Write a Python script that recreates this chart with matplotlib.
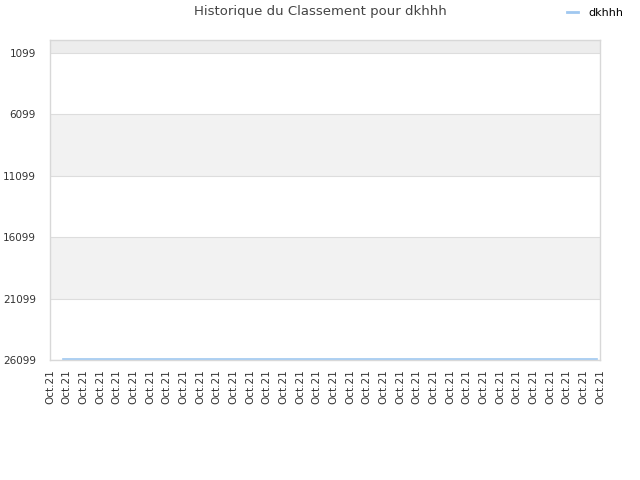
import matplotlib
matplotlib.use("Agg")
import matplotlib.pyplot as plt
from matplotlib.lines import Line2D

title = "Historique du Classement pour dkhhh"
series_name = "dkhhh"
x_labels = ["Oct.21"] * 34
y_ticks = [1099, 6099, 11099, 16099, 21099, 26099]
line_x = [0.8, 32.8]
line_y = [26020, 26020]
y_top = 40

plt.rcParams['font.family'] = ['DejaVu Sans']
fig = plt.figure(figsize=(6.4, 4.8), dpi=100)
ax = fig.add_axes([50/640, 1-360/480, 550/640, 320/480])

ax.set_xlim(0, len(x_labels) - 1)
ax.set_ylim(y_ticks[-1], y_top)

# bands
ax.axhspan(y_top, y_ticks[0], color='#ededed', zorder=0, lw=0)
for i in range(len(y_ticks) - 1):
    if i % 2 == 1:
        ax.axhspan(y_ticks[i], y_ticks[i+1], color='#f2f2f2', zorder=0, lw=0)
for t in y_ticks:
    ax.axhline(t, color='#dddddd', lw=0.8, zorder=1)

ax.plot(line_x, line_y, color='#a0c8f0', lw=1.2, zorder=5, clip_on=False)

ax.set_yticks(y_ticks)
ax.set_yticklabels([str(t) for t in y_ticks], fontsize=7.5, color='#333333')
ax.set_xticks(range(len(x_labels)))
ax.set_xticklabels(x_labels, rotation=90, fontsize=7.5, color='#333333')
ax.tick_params(axis='y', length=0, pad=10)
ax.tick_params(axis='x', length=0, pad=7)

for s in ax.spines.values():
    s.set_color('#d8d8d8')
    s.set_linewidth(1)
    s.set_zorder(2)

fig.text(320/640, 1-12/480, title, ha='center', va='center', fontsize=9.5, color='#444444')
fig.legend(handles=[Line2D([0], [0], color='#a0c8f0', lw=2)], labels=[series_name],
           loc='center right', bbox_to_anchor=(629/640, 1-13/480), frameon=False,
           fontsize=8, handlelength=1.0, handletextpad=0.9, borderpad=0)

fig.savefig("out.png", dpi=100)
